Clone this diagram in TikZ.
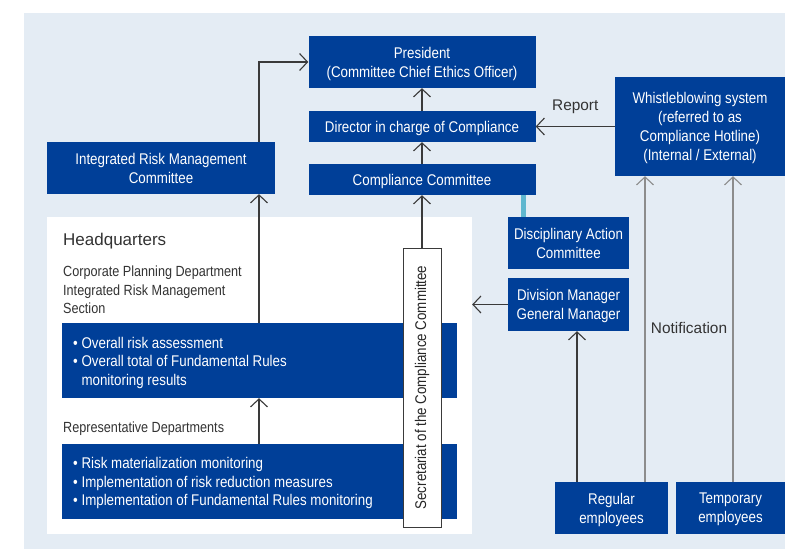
\documentclass[tikz,border=0pt]{standalone}
\usepackage{fontspec}
\setmainfont{Liberation Sans}
\newfontfamily\cond{Liberation Sans}[FakeStretch=0.86]
\usetikzlibrary{arrows.meta,calc}
\definecolor{dblue}{HTML}{003F98}
\definecolor{bgblue}{HTML}{E4ECF4}
\definecolor{tealc}{HTML}{5FB7CF}
\definecolor{txtgray}{HTML}{333333}
\definecolor{lnk}{HTML}{3A3A3A}
\definecolor{lnkgray}{HTML}{8C8C8C}
\tikzset{
  bx/.style={fill=dblue, text=white, inner sep=0pt, align=center, text depth=0pt,
    font={\cond\fontsize{15.5}{19}\selectfont}},
  band/.style={fill=dblue, inner sep=0pt, minimum width=395pt, minimum height=75pt},
  bandtxt/.style={text=white, inner sep=0pt, align=left, anchor=west, text depth=0pt,
    font={\cond\fontsize{15.5}{18.5}\selectfont}},
  graytxt/.style={text=txtgray, inner sep=0pt, align=left, anchor=west, text depth=0pt,
    font={\cond\fontsize{14.7}{18.5}\selectfont}},
  lbl/.style={text=txtgray, inner sep=0pt, font={\fontsize{15.4}{18}\selectfont}},
  arr/.style={draw=lnk, line width=1.1pt, -{Straight Barb[length=8pt,width=17pt,line width=1.1pt]}},
  arrg/.style={arr, draw=lnkgray},
}
\begin{document}
\begin{tikzpicture}[x=1pt,y=-1pt]
\useasboundingbox (0,0) rectangle (785,549);
\fill[bgblue] (24,13) rectangle (785,549);
% Headquarters white panel
\node[fill=white, inner sep=0pt, minimum width=425pt, minimum height=317pt] (hq) at (259.5,375.5) {};

% boxes
\node[bx, minimum width=227pt, minimum height=52pt] (pres) at (422,62) {President\\(Committee Chief Ethics Officer)};
\node[bx, minimum width=227pt, minimum height=31pt] (dir) at (422,126.5) {Director in charge of Compliance};
\node[bx, minimum width=227pt, minimum height=31pt] (cc) at (422,179.5) {Compliance Committee};
\node[bx, minimum width=228pt, minimum height=52pt] (irm) at (161,168) {Integrated Risk Management\\Committee};
\node[bx, minimum width=170pt, minimum height=99pt] (wb) at (700,126.5) {Whistleblowing system\\(referred to as\\Compliance Hotline)\\(Internal / External)};
\node[bx, minimum width=121pt, minimum height=52pt] (dac) at (568.5,243) {Disciplinary Action\\Committee};
\node[bx, minimum width=121pt, minimum height=53pt] (dm) at (568.5,304.5) {Division Manager\\General Manager};
\node[bx, minimum width=113pt, minimum height=52pt] (reg) at (611.5,508) {Regular\\employees};
\node[bx, minimum width=109pt, minimum height=52pt] (tmp) at (730.5,508) {Temporary\\employees};

% HQ contents
\node[text=txtgray, inner sep=0pt, anchor=west, font={\fontsize{17}{20}\selectfont}] (hqt) at (63,241) {Headquarters};
\node[graytxt] (cpd) at (63,290) {Corporate Planning Department\\Integrated Risk Management\\Section};
\node[band] (band1) at (259.5,360.5) {};
\node[bandtxt] (b1t) at (73,361) {\textbullet\ Overall risk assessment\\\textbullet\ Overall total of Fundamental Rules\\\phantom{\textbullet\ }monitoring results};
\node[graytxt] (rep) at (63,427) {Representative Departments};
\node[band] (band2) at (259.5,481.5) {};
\node[bandtxt] (b2t) at (73,481.5) {\textbullet\ Risk materialization monitoring\\\textbullet\ Implementation of risk reduction measures\\\textbullet\ Implementation of Fundamental Rules monitoring};

% Secretariat
\node[fill=white, draw=lnk, line width=0.9pt, inner sep=0pt, minimum width=38pt, minimum height=279pt] (sec) at (422,387.5) {};
\node[rotate=90, text=black!85, inner sep=0pt, font={\cond\fontsize{15.5}{18}\selectfont}] (sect) at (sec.center) {Secretariat of the Compliance Committee};

% columns
\coordinate (c1) at (259,0);
\coordinate (c2) at (577,0);
\coordinate (c3) at (645,0);
\coordinate (c4) at (733,0);
\coordinate (c5) at (523,0);

% connectors
\draw[arr] (irm.north -| c1) |- (pres.west);
\draw[arr] (band1.north -| c1) -- (irm.south -| c1);
\draw[arr] (band2.north -| c1) -- (band1.south -| c1);
\draw[arr] (sec.north) -- (cc.south);
\draw[arr] (cc.north) -- (dir.south);
\draw[arr] (dir.north) -- (pres.south);
\draw[arr] (wb.west) -- node[lbl, above=12pt] (rpt) {Report} (dir.east);
\draw[arr] (dm.west) -- (dm.west -| hq.east);
\draw[arr] (reg.north -| c2) -- (dm.south -| c2);
\draw[arrg] (reg.north -| c3) -- (wb.south -| c3);
\draw[arrg] (tmp.north -| c4) -- (wb.south -| c4);
\draw[tealc, line width=5pt] (cc.south -| c5) -- (dac.north -| c5);
\node[lbl] (notif) at (689,328) {Notification};
\end{tikzpicture}
\end{document}
